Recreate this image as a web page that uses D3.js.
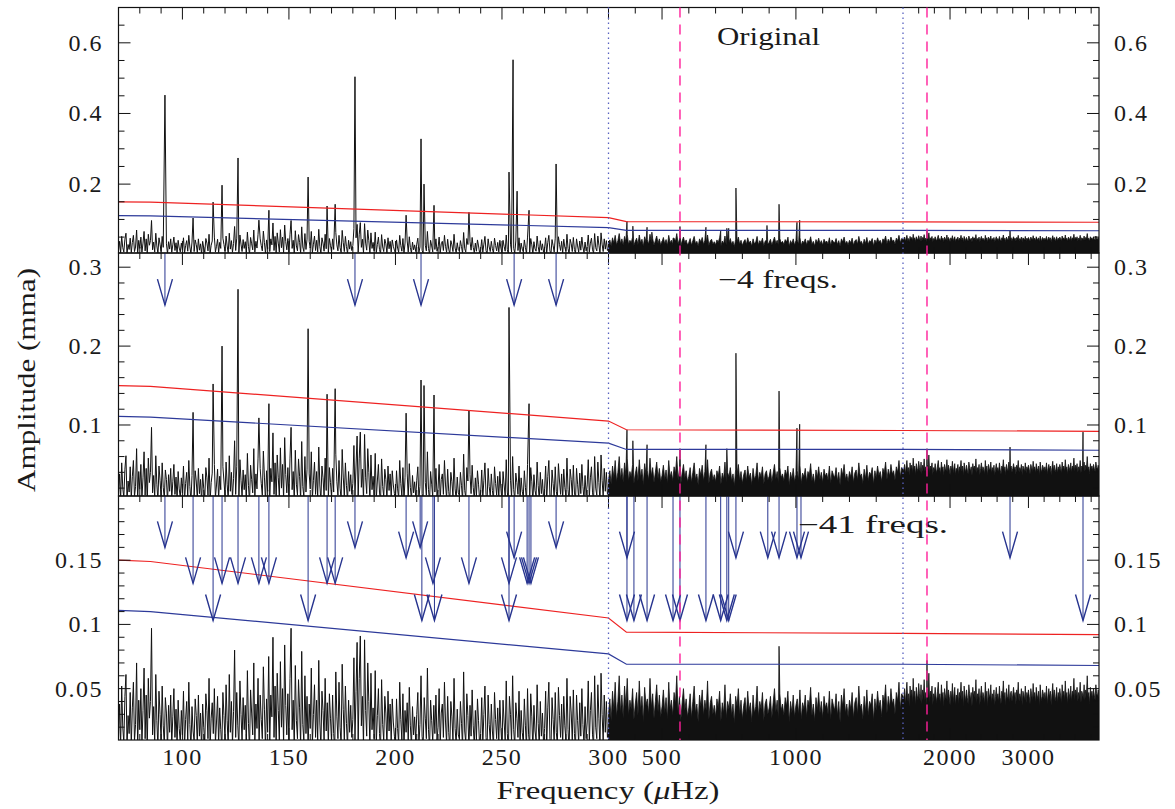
<!DOCTYPE html>
<html><head><meta charset="utf-8">
<script src="https://cdn.jsdelivr.net/npm/d3@7"></script>
<style>
body{margin:0;background:#fff}
svg{display:block}
</style>
</head><body>
<svg id="c" width="1175" height="809" font-family="'Liberation Serif','DejaVu Serif',serif"></svg>
<script>
// ---------------- DATA ----------------
// x-axis break points (µHz)
const xBreaks = [70, 300, 1400, 3900];
const xMajorTicks = [100, 150, 200, 250, 300, 500, 1000, 2000, 3000];
const xTickLabels = ["100", "150", "200", "250", "300", "500", "1000", "2000", "3000"];

// residual noise spectrum, amplitudes in 0.001 mma
// low-frequency part: 70..300 µHz, every 0.5 µHz
const noiseLowStart = 70, noiseLowStep = 0.5;
const noiseLow = [
 12,38,5,52,20,8,44,61,3,29,15,47,6,35,55,9,22,70,4,41,
 18,50,7,33,66,11,45,2,58,27,40,97,14,36,8,61,25,4,48,30,
 9,52,21,6,43,31,3,37,16,45,7,28,50,12,34,5,41,19,8,33,
 14,48,4,26,40,10,55,22,3,36,17,9,42,29,6,45,13,31,2,38,
 20,7,46,33,11,58,4,27,39,15,50,8,24,44,6,35,18,3,47,29,
 10,53,25,5,61,16,40,7,32,80,12,47,21,4,56,30,9,43,18,37,
 6,64,23,2,49,31,14,70,8,38,19,58,5,45,26,11,67,34,3,42,
 16,75,9,45,28,90,12,52,4,62,33,8,71,20,50,6,84,37,14,46,
 7,58,97,18,41,3,68,25,11,57,35,5,79,22,9,60,15,44,2,38,
 19,66,6,30,53,12,41,8,72,24,4,48,33,10,58,17,39,5,46,27,
 8,45,15,3,63,28,11,55,20,6,69,34,9,52,23,4,41,16,37,12,
 26,74,10,48,86,7,58,91,21,44,5,88,33,13,70,40,4,62,18,35,
 11,64,6,29,50,15,3,57,22,9,44,31,5,48,17,38,8,42,24,13,
 4,42,19,7,55,26,10,46,3,33,16,39,8,51,21,5,36,14,28,9,
 30,47,6,22,60,13,4,43,27,11,66,18,3,41,25,8,37,15,45,10,
 20,50,5,31,38,12,55,24,7,44,16,3,40,28,9,58,19,6,34,14,
 11,40,23,4,63,17,8,46,29,2,37,13,49,21,6,33,10,42,25,5,
 15,43,7,30,52,12,3,45,22,9,38,17,5,47,26,11,35,8,41,19,
 4,41,24,10,56,15,2,44,30,8,60,18,5,39,27,12,48,6,33,16,
 9,42,21,3,50,14,6,46,28,2,37,17,10,53,23,5,40,13,31,7,
 19,48,4,35,55,11,3,43,26,8,47,16,6,51,29,12,38,5,44,21,
 10,58,18,2,44,31,9,49,15,4,45,25,7,39,13,50,22,6,36,11,
 24,56,8,33,47,14,5,60,20,11,53,27,3,62,30,9,45,16,40,12,
 18];
// middle part: 300..1400 µHz, every 5 µHz (upper envelope of the dense spectrum)
const noiseMidStart = 300, noiseMidStep = 5;
const noiseMid = [
 30,42,25,48,33,55,28,40,60,31,45,27,52,36,58,29,41,34,50,26,
 38,47,29,56,33,44,24,51,37,42,30,58,35,46,27,40,53,32,45,28,
 36,49,31,43,26,55,34,41,29,47,38,60,30,44,25,39,50,33,42,28,
 35,46,27,40,52,31,38,24,45,36,49,29,41,33,56,26,39,44,30,37,
 28,42,35,48,25,39,31,53,27,40,34,46,29,38,23,44,36,50,30,41,
 26,37,43,29,48,33,39,24,45,31,36,52,28,40,34,47,25,38,42,30,
 35,44,27,39,50,32,41,26,46,33,38,29,43,36,48,24,40,31,45,28,
 37,42,30,49,26,39,34,45,28,41,36,51,29,38,25,43,33,47,31,40,
 27,44,35,39,30,48,26,42,37,33,46,29,40,24,45,36,50,31,38,28,
 41,34,47,27,39,43,30,52,35,38,26,44,32,49,29,40,37,46,25,42,
 33,48,36,41,28,45,39,53,31,44,35,50,38,42,30,47,40,55,34,46,
 44];
// high part: 1410..3900 µHz, every 10 µHz
const noiseHighStart = 1410, noiseHighStep = 10;
const noiseHigh = [
 42,50,38,47,55,40,46,36,52,44,49,39,58,43,48,37,51,45,41,54,
 46,40,53,38,49,44,57,41,47,35,50,43,62,39,48,45,52,37,46,42,
 51,44,39,48,55,41,46,38,53,43,47,36,50,45,42,56,40,49,44,37,
 48,42,54,39,46,51,37,45,43,50,38,47,44,55,41,48,36,52,45,40,
 49,43,38,53,46,41,47,36,51,44,48,42,57,39,46,43,50,37,45,52,
 41,47,44,38,55,42,48,36,50,45,43,53,39,46,41,49,37,44,51,42,
 46,40,52,43,38,48,45,56,41,47,37,50,44,42,53,39,46,48,40,45,
 51,43,47,38,49,44,55,40,46,42,50,37,48,45,41,52,39,47,43,49,
 44,38,50,46,41,54,43,47,39,51,45,42,48,36,53,44,40,49,46,42,
 47,41,52,38,45,50,43,48,37,46,54,42,49,40,44,51,39,47,43,50,
 45,39,53,44,48,41,56,43,47,38,50,46,42,52,40,48,45,58,41,49,
 44,51,40,47,43,55,39,48,46,42,53,41,49,45,60,43,47,38,51,44,
 48,42,50,45,41,53,46,44,49,43];

// peaks [frequency µHz, amplitude mma]
const peaksOriginal = [
 [91.8,.452],[105.0,.104],[114.4,.149],[118.6,.197],[126.1,.274],[135.9,.098],[140.6,.126],
 [159.0,.220],[167.9,.138],[171.7,.143],[181.0,.504],[205.0,.112],[212.0,.328],[213.4,.200],
 [218.1,.140],[234.5,.120],[253.3,.234],[255.2,.552],[257.1,.180],[262.7,.126],[275.4,.257],
 [369,.095],[391,.081],[444,.078],[462,.064],[541,.047],[567,.080],[664,.078],[719,.067],
 [742,.075],[749,.075],[776,.189],[892,.083],[937,.143],[970,.050],[1004,.092],[1014,.098],
 [1706,.070],[2765,.070]];
const peaksMinus4 = [
 [105.0,.116],[114.4,.152],[118.6,.200],[126.1,.272],[135.9,.109],[140.6,.127],[159.0,.222],
 [167.9,.139],[171.7,.146],[205.0,.115],[212.0,.157],[213.4,.150],[218.1,.138],[234.5,.119],
 [253.3,.249],[262.7,.127],
 [369,.094],[391,.080],[444,.075],[567,.070],[664,.075],[742,.070],[776,.191],[937,.143],
 [1004,.096],[1014,.101],[1706,.070],[2765,.072],[3696,.091]];
const peaksMinus41 = [[937,.083],[1706,.072]];

// detection thresholds
const thrFreq = [70, 85, 300, 367, 1400, 3900];
const thrRed  = [0.150, 0.149, 0.105, 0.094, 0.093, 0.092];
const thrBlue = [0.111, 0.110, 0.077, 0.069, 0.069, 0.068];

// prewhitened frequencies (arrows): frequency µHz, tip amplitude mma
const arrowsMinus4 = [[91.8,.252],[181.0,.252],[212.0,.252],[255.7,.252],[275.4,.252]];
const arrowsMinus41 = [
 [91.8,.160],[105.0,.132],[114.4,.103],[118.6,.132],[126.1,.132],[135.9,.132],[140.6,.132],
 [159.0,.103],[167.9,.132],[171.7,.132],[181.0,.160],[205.0,.152],[211.6,.160],[212.4,.103],
 [217.6,.132],[218.3,.103],[234.5,.132],[253.3,.132],[253.3,.103],[255.7,.152],[261.8,.132],
 [262.7,.132],[263.6,.132],[275.4,.160],
 [369,.152],[369,.103],[395,.103],[444,.103],[541,.103],[567,.103],[664,.103],[719,.103],
 [742,.103],[749,.103],[776,.152],[895,.152],[937,.152],[1004,.152],[1019,.152],
 [2765,.152],[3696,.103]];

// reference lines
const dottedFreqs = [300, 1400];
const dashedFreqs = [567, 1706];

// panels
const panelNames = ["Original", "\u22124 freqs.", "\u221241 freqs."];
const panelDomains = [[0.005, 0.7], [0.01, 0.318], [0.01, 0.2]];
const panelMajor = [[0.2, 0.4, 0.6], [0.1, 0.2, 0.3], [0.05, 0.1, 0.15]];
const panelMajorLabels = [["0.2","0.4","0.6"],["0.1","0.2","0.3"],["0.05","0.1","0.15"]];
const panelMinorStep = [0.05, 0.02, 0.01];

// ---------------- DRAW ----------------
const FONT = "'Liberation Serif','DejaVu Serif','Times New Roman',serif";
const svg = d3.select("#c");
const L = 118.5, R = 1099;
const panelBox = [[7.5, 253], [253, 496], [496, 740]];
const x = d3.scaleLinear().domain(xBreaks).range([L, 608.5, 903, R]);

const lowPts = noiseLow.map((v,i)=>[noiseLowStart+i*noiseLowStep, v/1000]);
const midPts = noiseMid.map((v,i)=>[noiseMidStart+i*noiseMidStep, v/1000]);
const highPts = noiseHigh.map((v,i)=>[noiseHighStart+i*noiseHighStep, v/1000]);

const peaksList = [peaksOriginal, peaksMinus4, peaksMinus41];
const arrowsList = [[], arrowsMinus4, arrowsMinus41];
const titlePos = [[717, 45, 103], [718, 288, 120], [798, 533, 150]];

const defs = svg.append("defs");
const ARROW = "#27348f";

function label(sel, size) {
  return sel.attr("font-family", FONT).attr("font-size", size).attr("fill", "#1a1a1a");
}

panelBox.forEach((pb, pi) => {
  const [top, bot] = pb;
  const y = d3.scaleLinear().domain(panelDomains[pi]).range([bot, top]);
  const g = svg.append("g");
  const cid = "clip" + pi;
  defs.append("clipPath").attr("id", cid).append("rect")
    .attr("x", L).attr("y", top).attr("width", R - L).attr("height", bot - top);
  const gc = g.append("g").attr("clip-path", `url(#${cid})`);

  const peaks = peaksList[pi];
  const lowSeries = lowPts.filter(p => !peaks.some(q => Math.abs(q[0]-p[0]) < 0.3))
    .concat(peaks.filter(p => p[0] <= 300)).sort((a,b)=>a[0]-b[0]);
  const hiSeries = midPts.concat(highPts, peaks.filter(p => p[0] > 300)).sort((a,b)=>a[0]-b[0]);

  // dense part as filled area
  gc.append("path").datum(hiSeries)
    .attr("d", d3.area().x(d=>x(d[0])).y0(bot+2).y1(d=>y(d[1])))
    .attr("fill", "#111").attr("stroke", "#111").attr("stroke-width", 0.8);
  // low-frequency part as line
  gc.append("path").datum(lowSeries)
    .attr("d", d3.line().x(d=>x(d[0])).y(d=>y(d[1])))
    .attr("fill", "none").attr("stroke", "#111").attr("stroke-width", 1);

  // thresholds
  const thrLine = d3.line().x(d=>x(d[0])).y(d=>y(d[1]));
  gc.append("path").datum(thrFreq.map((f,i)=>[f, thrRed[i]]))
    .attr("d", thrLine).attr("fill","none").attr("stroke","#ee2222").attr("stroke-width",1.2);
  gc.append("path").datum(thrFreq.map((f,i)=>[f, thrBlue[i]]))
    .attr("d", thrLine).attr("fill","none").attr("stroke","#2d3a9a").attr("stroke-width",1.2);

  // arrows
  arrowsList[pi].forEach(a => {
    const ax = x(a[0]), ay = y(a[1]);
    g.append("line").attr("x1", ax).attr("x2", ax).attr("y1", top).attr("y2", ay)
      .attr("stroke", ARROW).attr("stroke-width", 1);
    g.append("path").attr("d", `M${ax-7.5},${ay-26}L${ax},${ay}L${ax+7.5},${ay-26}`)
      .attr("fill","none").attr("stroke", ARROW).attr("stroke-width", 1.4);
  });

  // box
  g.append("rect").attr("x", L).attr("y", top).attr("width", R-L).attr("height", bot-top)
    .attr("fill","none").attr("stroke","#111").attr("stroke-width",1.2);

  // y ticks
  const [d0, d1] = panelDomains[pi];
  const st = panelMinorStep[pi];
  const minors = d3.range(Math.ceil(d0/st+1e-6)*st, d1+1e-9, st).map(v=>+v.toFixed(4))
    .filter(v => v > d0 && v < d1);
  minors.forEach(v => {
    const isMajor = panelMajor[pi].some(m => Math.abs(m-v) < 1e-6);
    const len = isMajor ? 12 : 6;
    const yy = y(v);
    g.append("line").attr("x1", L).attr("x2", L+len).attr("y1", yy).attr("y2", yy).attr("stroke","#111");
    g.append("line").attr("x1", R).attr("x2", R-len).attr("y1", yy).attr("y2", yy).attr("stroke","#111");
  });
  panelMajor[pi].forEach((v, k) => {
    label(g.append("text"), 24).attr("x", 103).attr("y", y(v)).attr("text-anchor","end")
      .attr("dominant-baseline","central").attr("letter-spacing",1.5)
      .text(panelMajorLabels[pi][k]);
    label(g.append("text"), 24).attr("x", 1114).attr("y", y(v)).attr("text-anchor","start")
      .attr("dominant-baseline","central").attr("letter-spacing",1.5)
      .text(panelMajorLabels[pi][k]);
  });

  // x ticks on top and bottom of each panel
  const xMinor = d3.range(80, 300, 10).concat(d3.range(300, 1400, 100), d3.range(1600, 3900, 200));
  xMinor.forEach(f => {
    const isMajor = xMajorTicks.includes(f);
    const len = isMajor ? 12 : 6;
    const xx = x(f);
    g.append("line").attr("x1", xx).attr("x2", xx).attr("y1", top).attr("y2", top+len).attr("stroke","#111");
    g.append("line").attr("x1", xx).attr("x2", xx).attr("y1", bot).attr("y2", bot-len).attr("stroke","#111");
  });

  // panel title
  const tp = titlePos[pi];
  label(g.append("text"), 25).attr("x", tp[0]).attr("y", tp[1])
    .attr("textLength", tp[2]).attr("lengthAdjust", "spacingAndGlyphs").text(panelNames[pi]);
});

// vertical reference lines spanning all panels
dottedFreqs.forEach(f => {
  svg.append("line").attr("x1", x(f)).attr("x2", x(f)).attr("y1", 7.5).attr("y2", 740)
    .attr("stroke", "#5a63c0").attr("stroke-width", 1.3).attr("stroke-dasharray", "1.5,3.5");
});
dashedFreqs.forEach(f => {
  svg.append("line").attr("x1", x(f)).attr("x2", x(f)).attr("y1", 7.5).attr("y2", 740)
    .attr("stroke", "#ff1f9a").attr("stroke-width", 1.4).attr("stroke-dasharray", "10,7");
});

// bottom tick labels
xMajorTicks.forEach((f, i) => {
  label(svg.append("text"), 24).attr("x", x(f)).attr("y", 757).attr("text-anchor","middle")
    .attr("dominant-baseline","central").attr("letter-spacing",1.5)
    .text(xTickLabels[i]);
});

// axis titles
const xt = label(svg.append("text"), 26).attr("x", 608).attr("y", 799).attr("text-anchor","middle")
  .attr("textLength", 223).attr("lengthAdjust", "spacingAndGlyphs");
xt.append("tspan").text("Frequency (");
xt.append("tspan").attr("font-style","italic").text("\u03bc");
xt.append("tspan").text("Hz)");

label(svg.append("text"), 26).attr("transform", "translate(35,380) rotate(-90)").attr("text-anchor","middle")
  .attr("textLength", 224).attr("lengthAdjust", "spacingAndGlyphs").text("Amplitude (mma)");
</script>
</body></html>
